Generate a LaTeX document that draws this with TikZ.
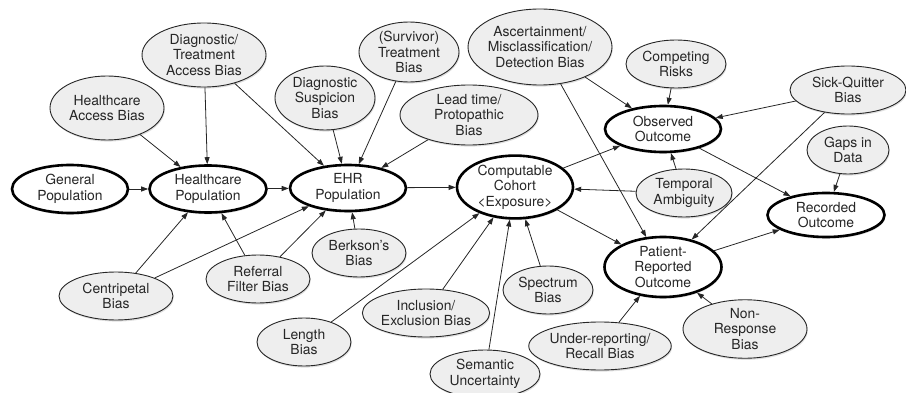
\documentclass[tikz,border=0pt]{standalone}
\usepackage{fontspec}
\setmainfont{TeX Gyre Heros}
\usetikzlibrary{shapes.geometric,arrows.meta,shadows}
\definecolor{biasfill}{HTML}{EEEEEE}
\definecolor{ink}{HTML}{262626}
\begin{document}
\begin{tikzpicture}[x=1pt,y=-1pt,
  every node/.style={ellipse, align=center, inner sep=0pt,
    font=\fontsize{13.9}{15.5}\selectfont, text=ink},
  bias/.style={draw=ink, line width=0.9pt, fill=biasfill,
    drop shadow={shadow xshift=0.8pt, shadow yshift=-1.6pt, opacity=0.25}},
  stage/.style={draw=black, line width=2.6pt, fill=white,
    drop shadow={shadow xshift=0.8pt, shadow yshift=-1.8pt, opacity=0.25}},
  sz/.style 2 args={minimum width=#1pt, minimum height=#2pt},
  link/.style={draw=ink, line width=0.8pt, -{Triangle[length=7pt,width=5pt]}}
]
\useasboundingbox (0,0) rectangle (906,393);

% main pipeline
\node[stage, sz={116}{48}] (genpop)   at (70,189)  {General\\Population};
\node[stage, sz={117}{47}] (hcpop)    at (208,189) {Healthcare\\Population};
\node[stage, sz={116}{46}] (ehr)      at (348,188) {EHR\\Population};
\node[stage, sz={116}{62}] (cohort)   at (515,187) {Computable\\Cohort\\<Exposure>};
\node[stage, sz={116}{46}] (observed) at (663,129) {Observed\\Outcome};
\node[stage, sz={117}{60}] (pro)      at (663,267) {Patient-\\Reported\\Outcome};
\node[stage, sz={117}{44}] (recorded) at (826,215) {Recorded\\Outcome};

% sources of bias
\node[bias, sz={114}{64}] (hab)       at (107,108) {Healthcare\\Access Bias};
\node[bias, sz={124}{64}] (dtab)      at (204,55)  {Diagnostic/\\Treatment\\Access Bias};
\node[bias, sz={100}{64}] (dsb)       at (325,98)  {Diagnostic\\Suspicion\\Bias};
\node[bias, sz={100}{60}] (stb)       at (409,52)  {(Survivor)\\Treatment\\Bias};
\node[bias, sz={138}{60}] (lead)      at (469,115) {Lead time/\\Protopathic\\Bias};
\node[bias, sz={144}{76}, inner xsep=-4pt] (asc) at (540,47) {Ascertainment/\\Misclassification/\\Detection Bias};
\node[bias, sz={100}{48}] (comp)      at (676,64)  {Competing\\Risks};
\node[bias, sz={116}{48}] (sick)      at (848,90)  {Sick-Quitter\\Bias};
\node[bias, sz={82}{48}]  (gaps)      at (848,150) {Gaps in\\Data};
\node[bias, sz={96}{48}]  (temporal)  at (684,193) {Temporal\\Ambiguity};
\node[bias, sz={114}{48}] (centri)    at (116,296) {Centripetal\\Bias};
\node[bias, sz={104}{48}] (referral)  at (258,279) {Referral\\Filter Bias};
\node[bias, sz={94}{48}]  (berkson)   at (359,253) {Berkson's\\Bias};
\node[bias, sz={94}{48}]  (length)    at (304,342) {Length\\Bias};
\node[bias, sz={126}{48}] (inclusion) at (426,313) {Inclusion/\\Exclusion Bias};
\node[bias, sz={90}{48}]  (spectrum)  at (548,290) {Spectrum\\Bias};
\node[bias, sz={110}{48}] (semantic)  at (485,374) {Semantic\\Uncertainty};
\node[bias, sz={140}{48}] (under)     at (600,346) {Under-reporting/\\Recall Bias};
\node[bias, sz={124}{48}] (nonresp)   at (745,329) {Non-\\Response\\Bias};

% flow between populations and outcomes
\draw[link] (genpop) -- (hcpop);
\draw[link] (hcpop) -- (ehr);
\draw[link] (ehr) -- (cohort);
\draw[link] (cohort) -- (observed);
\draw[link] (cohort) -- (pro);
\draw[link] (observed) -- (recorded);
\draw[link] (pro) -- (recorded);

% biases acting on each stage
\draw[link] (hab) -- (hcpop);
\draw[link] (dtab) -- (hcpop);
\draw[link] (dtab) -- (ehr);
\draw[link] (dsb) -- (ehr);
\draw[link] (stb) -- (ehr);
\draw[link] (lead) -- (ehr);
\draw[link] (centri) -- (hcpop);
\draw[link] (centri) -- (ehr);
\draw[link] (referral) -- (hcpop);
\draw[link] (referral) -- (ehr);
\draw[link] (berkson) -- (ehr);
\draw[link] (length) -- (cohort);
\draw[link] (inclusion) -- (cohort);
\draw[link] (semantic) -- (cohort);
\draw[link] (spectrum) -- (cohort);
\draw[link] (temporal) -- (cohort);
\draw[link] (temporal) -- (observed);
\draw[link] (asc) -- (observed);
\draw[link] (asc) -- (pro);
\draw[link] (comp) -- (observed);
\draw[link] (sick) -- (observed);
\draw[link] (sick) -- (pro);
\draw[link] (gaps) -- (recorded);
\draw[link] (under) -- (pro);
\draw[link] (nonresp) -- (pro);
\end{tikzpicture}
\end{document}
